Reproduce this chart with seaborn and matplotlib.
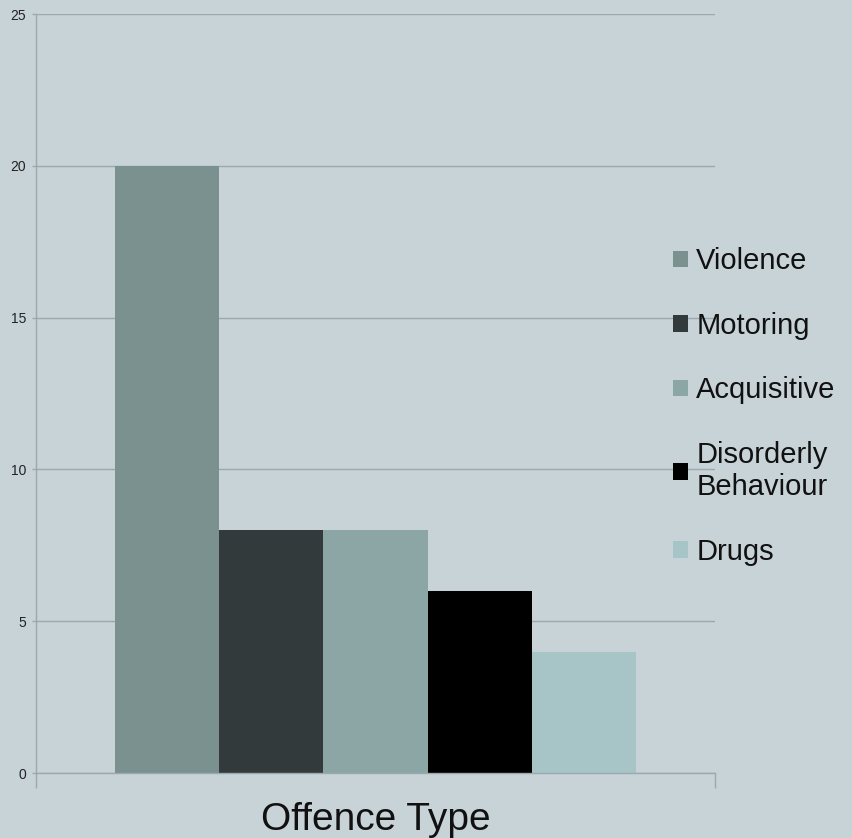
import pandas as pd
import matplotlib.pyplot as plt
import seaborn as sns

# === DATA ===
offences = ["Violence", "Motoring", "Acquisitive", "Disorderly\nBehaviour", "Drugs"]
counts = [20, 8, 8, 6, 4]
colours = ["#7a9190", "#323a3b", "#8ca6a6", "#000000", "#a7c5c7"]
y_ticks = [0, 5, 10, 15, 20, 25]

BG = "#c8d3d8"
GRID = "#9aa9ad"

df = pd.DataFrame({"group": ["Offence Type"] * len(offences),
                   "offence": offences, "count": counts})

sns.set_theme(style="white")
plt.rcParams["font.family"] = ["Liberation Sans", "DejaVu Sans"]

fig = plt.figure(figsize=(8.52, 8.38), dpi=100, facecolor=BG)
ax = fig.add_axes([36 / 852, 1 - 773 / 838, 679 / 852, 759 / 838])
ax.set_facecolor(BG)

sns.barplot(data=df, x="group", y="count", hue="offence", hue_order=offences,
            palette=colours, width=0.8, gap=0, linewidth=0, saturation=1,
            ax=ax, legend=True)

ax.set_xlim(-0.5213, 0.5213)
ax.set_ylim(0, 25)
ax.set_yticks(y_ticks)
ax.set_yticklabels([str(v) for v in y_ticks], fontsize=10, color="#222222")
ax.yaxis.grid(True, color=GRID, linewidth=1)
ax.set_axisbelow(True)

# category boundary ticks like the original
ax.set_xticks([-0.5213, 0.5213])
ax.set_xticklabels(["", ""])
ax.tick_params(axis="x", direction="out", length=11, width=1, color=GRID, bottom=True, pad=0)
ax.tick_params(axis="y", direction="out", length=3, width=1, color=GRID, left=True, pad=4)

for side in ["top", "right"]:
    ax.spines[side].set_visible(False)
for side in ["left", "bottom"]:
    ax.spines[side].set_color(GRID)
    ax.spines[side].set_linewidth(1)

ax.set_xlabel("Offence Type", fontsize=28, color="#111111", labelpad=10)
ax.set_ylabel("")

handles, labels = ax.get_legend_handles_labels()
ax.legend(handles, labels, loc="center left", bbox_to_anchor=(673 / 852, 0.515),
          bbox_transform=fig.transFigure, frameon=False, fontsize=21,
          handlelength=0.5, handleheight=0.5, handletextpad=0.3,
          labelspacing=1.25, borderpad=0, borderaxespad=0, labelcolor="#111111")

fig.savefig("out.png", dpi=100, facecolor=BG)
